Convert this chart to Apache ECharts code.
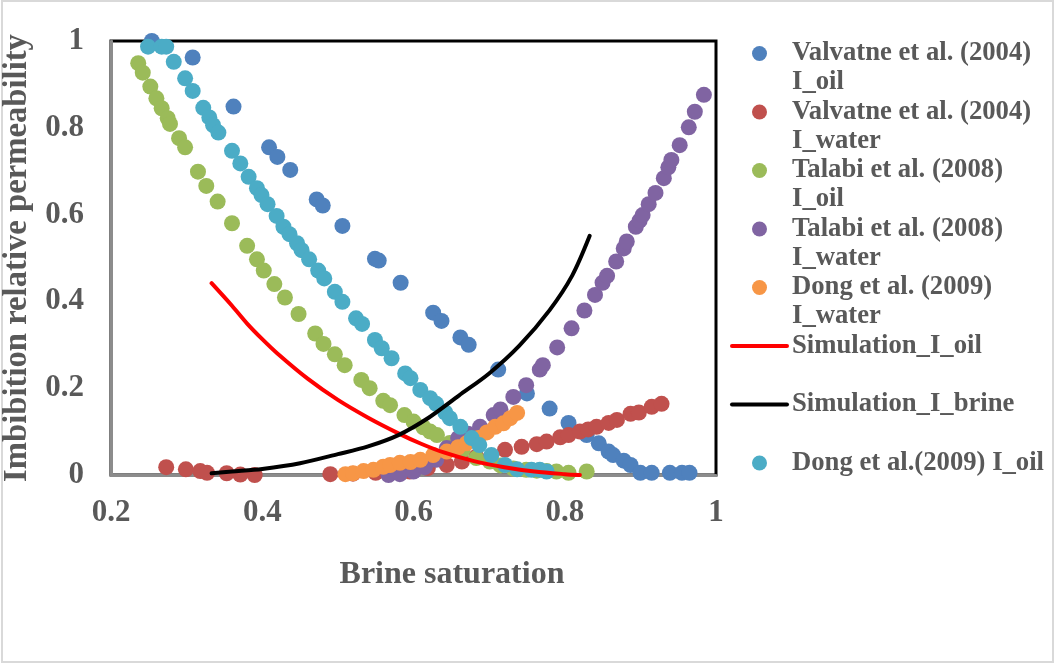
<!DOCTYPE html>
<html>
<head>
<meta charset="utf-8">
<script src="https://cdn.jsdelivr.net/npm/echarts@6/dist/echarts.min.js"></script>
<style>
  html, body { margin: 0; padding: 0; background: #ffffff; }
  #chart { width: 1055px; height: 664px; }
</style>
</head>
<body>
<div id="chart"></div>
<script>
// Imbibition relative permeability vs brine saturation: literature data points and simulation curves

const xTicks = [0.2, 1, 0.2];   // min, max, interval
const yTicks = [0, 1, 0.2];

// [brine saturation, relative permeability]
const valvatneOil = [
  [0.254, 1.0], [0.308, 0.962], [0.362, 0.849], [0.409, 0.755], [0.42, 0.733], [0.437, 0.703],
  [0.472, 0.635], [0.48, 0.621], [0.506, 0.574], [0.549, 0.498], [0.554, 0.494], [0.583, 0.443],
  [0.626, 0.374], [0.637, 0.355], [0.662, 0.317], [0.673, 0.3], [0.712, 0.243], [0.75, 0.188],
  [0.78, 0.153], [0.805, 0.12], [0.829, 0.092], [0.845, 0.073], [0.858, 0.054], [0.864, 0.046],
  [0.878, 0.033], [0.887, 0.023], [0.9, 0.005], [0.915, 0.005], [0.939, 0.005], [0.955, 0.005],
  [0.965, 0.005]
];

const valvatneWater = [
  [0.273, 0.018], [0.299, 0.013], [0.318, 0.009], [0.327, 0.005], [0.353, 0.004], [0.371, 0.001],
  [0.39, 0.0], [0.49, 0.002], [0.52, 0.003], [0.55, 0.005], [0.575, 0.007], [0.595, 0.008],
  [0.619, 0.016], [0.644, 0.023], [0.664, 0.031], [0.683, 0.042], [0.721, 0.058], [0.743, 0.065],
  [0.763, 0.071], [0.776, 0.077], [0.794, 0.087], [0.805, 0.092], [0.82, 0.1], [0.831, 0.105],
  [0.842, 0.111], [0.858, 0.12], [0.869, 0.127], [0.887, 0.141], [0.898, 0.144], [0.915, 0.157],
  [0.928, 0.164]
];

const talabiOil = [
  [0.236, 0.949], [0.242, 0.927], [0.252, 0.895], [0.26, 0.868], [0.267, 0.845], [0.275, 0.822],
  [0.278, 0.809], [0.29, 0.776], [0.298, 0.755], [0.315, 0.699], [0.326, 0.666], [0.341, 0.63],
  [0.36, 0.58], [0.38, 0.528], [0.393, 0.497], [0.402, 0.471], [0.416, 0.44], [0.43, 0.409],
  [0.448, 0.371], [0.47, 0.326], [0.481, 0.302], [0.496, 0.278], [0.509, 0.253], [0.531, 0.219],
  [0.542, 0.2], [0.56, 0.171], [0.569, 0.161], [0.588, 0.138], [0.6, 0.123], [0.613, 0.11],
  [0.622, 0.1], [0.631, 0.092], [0.648, 0.074], [0.665, 0.058], [0.683, 0.039], [0.701, 0.031],
  [0.715, 0.022], [0.732, 0.015], [0.749, 0.012], [0.763, 0.01], [0.776, 0.009], [0.789, 0.008],
  [0.805, 0.005], [0.829, 0.008]
];

const talabiWater = [
  [0.567, 0.0], [0.582, 0.002], [0.6, 0.008], [0.615, 0.018], [0.63, 0.035], [0.644, 0.062],
  [0.659, 0.085], [0.672, 0.095], [0.688, 0.111], [0.706, 0.138], [0.715, 0.151], [0.732, 0.18],
  [0.749, 0.207], [0.767, 0.243], [0.771, 0.253], [0.79, 0.294], [0.809, 0.338], [0.826, 0.379],
  [0.84, 0.415], [0.85, 0.443], [0.856, 0.459], [0.868, 0.492], [0.878, 0.522], [0.882, 0.538],
  [0.894, 0.572], [0.899, 0.586], [0.903, 0.599], [0.911, 0.624], [0.92, 0.65], [0.931, 0.684],
  [0.937, 0.709], [0.941, 0.726], [0.952, 0.76], [0.964, 0.801], [0.972, 0.837], [0.984, 0.876]
];

const dongWater = [
  [0.51, 0.002], [0.52, 0.004], [0.534, 0.009], [0.547, 0.012], [0.56, 0.019], [0.569, 0.023],
  [0.582, 0.028], [0.596, 0.03], [0.609, 0.035], [0.626, 0.046], [0.644, 0.054], [0.659, 0.064],
  [0.67, 0.073], [0.686, 0.085], [0.697, 0.098], [0.708, 0.111], [0.719, 0.119], [0.728, 0.131],
  [0.737, 0.143]
];

const dongOil = [
  [0.249, 0.987], [0.267, 0.987], [0.273, 0.987], [0.283, 0.952], [0.298, 0.914], [0.308, 0.885],
  [0.322, 0.846], [0.33, 0.824], [0.335, 0.806], [0.342, 0.789], [0.36, 0.747], [0.371, 0.718],
  [0.382, 0.687], [0.393, 0.661], [0.399, 0.645], [0.407, 0.624], [0.419, 0.597], [0.428, 0.572],
  [0.436, 0.555], [0.446, 0.534], [0.452, 0.518], [0.462, 0.497], [0.474, 0.471], [0.482, 0.453],
  [0.496, 0.422], [0.506, 0.399], [0.524, 0.361], [0.532, 0.348], [0.549, 0.311], [0.558, 0.292],
  [0.571, 0.269], [0.589, 0.234], [0.596, 0.223], [0.609, 0.196], [0.622, 0.177], [0.63, 0.164],
  [0.642, 0.144], [0.648, 0.131], [0.662, 0.111], [0.677, 0.085], [0.687, 0.069], [0.703, 0.046],
  [0.721, 0.023], [0.737, 0.013], [0.756, 0.012], [0.767, 0.012], [0.776, 0.008]
];

const simOil = [
  [0.333, 0.442], [0.36, 0.39], [0.38, 0.349], [0.40, 0.313], [0.42, 0.28], [0.46, 0.222],
  [0.50, 0.173], [0.54, 0.132], [0.58, 0.096], [0.61, 0.072], [0.64, 0.052], [0.68, 0.032],
  [0.72, 0.018], [0.76, 0.008], [0.80, 0.002], [0.82, 0.0]
];

const simBrine = [
  [0.333, 0.004], [0.36, 0.008], [0.40, 0.014], [0.45, 0.027], [0.50, 0.048], [0.54, 0.066],
  [0.58, 0.092], [0.62, 0.132], [0.66, 0.183], [0.70, 0.234], [0.74, 0.298], [0.78, 0.38],
  [0.81, 0.46], [0.833, 0.551]
];

const names = [
  'Valvatne et al. (2004) I_oil',
  'Valvatne et al. (2004) I_water',
  'Talabi et al. (2008) I_oil',
  'Talabi et al. (2008) I_water',
  'Dong et al. (2009) I_water',
  'Simulation_I_oil',
  'Simulation_I_brine',
  'Dong et al.(2009) I_oil'
];

// legend text, broken over lines the way the legend wraps them
const legendText = {
  'Valvatne et al. (2004) I_oil': '\nValvatne et al. (2004)\nI_oil',
  'Valvatne et al. (2004) I_water': '\nValvatne et al. (2004)\nI_water',
  'Talabi et al. (2008) I_oil': '\nTalabi et al. (2008)\nI_oil',
  'Talabi et al. (2008) I_water': '\nTalabi et al. (2008)\nI_water',
  'Dong et al. (2009) I_water': '\nDong et al. (2009)\nI_water',
  'Simulation_I_oil': '\nSimulation_I_oil\n ',
  'Simulation_I_brine': '\nSimulation_I_brine\n ',
  'Dong et al.(2009) I_oil': '\nDong et al.(2009) I_oil\n '
};

const FONT = "'Liberation Serif', 'Times New Roman', serif";
const TEXT_COLOR = '#595959';

function scatter(name, data, color) {
  return {
    name: name,
    type: 'scatter',
    data: data,
    symbol: 'circle',
    symbolSize: 16,
    clip: false,
    itemStyle: { color: color, opacity: 1 },
    emphasis: { disabled: true }
  };
}

function curve(name, data, color) {
  return {
    name: name,
    type: 'line',
    data: data,
    symbol: 'none',
    showSymbol: false,
    smooth: 0.3,
    lineStyle: { color: color, width: 4, cap: 'round', join: 'round' },
    itemStyle: { color: color },
    emphasis: { disabled: true }
  };
}

// line entries in the legend show only the stroke, no marker
const legendData = names.map(n => n.indexOf('Simulation') === 0
  ? { name: n, itemStyle: { color: 'rgba(0,0,0,0)', opacity: 0, borderWidth: 0 } }
  : { name: n });

const chart = echarts.init(document.getElementById('chart'), null, { renderer: 'canvas' });

chart.setOption({
  animation: false,
  backgroundColor: '#ffffff',
  graphic: [{
    type: 'rect',
    shape: { x: 2, y: 1, width: 1051, height: 661 },
    style: { fill: 'none', stroke: '#d9d9d9', lineWidth: 2 },
    silent: true
  }],
  grid: {
    left: 111, top: 41, width: 605, height: 434,
    show: true, borderColor: '#000000', borderWidth: 3,
    outerBoundsMode: 'none'
  },
  legend: {
    orient: 'vertical',
    left: 730,
    top: 10,
    padding: 0,
    itemWidth: 55,
    itemHeight: 15,
    itemGap: -28.5,
    selectedMode: false,
    data: legendData,
    formatter: n => legendText[n],
    lineStyle: { width: 4, cap: 'round' },
    textStyle: {
      fontFamily: FONT, fontWeight: 'bold', fontSize: 26.7,
      color: TEXT_COLOR, lineHeight: 29
    }
  },
  xAxis: {
    type: 'value',
    min: xTicks[0], max: xTicks[1], interval: xTicks[2],
    axisLine: { show: true, onZero: false, lineStyle: { color: '#8c8c8c', width: 3 } },
    axisTick: { show: false },
    splitLine: { show: false },
    axisLabel: {
      fontFamily: FONT, fontWeight: 'bold', fontSize: 31, color: TEXT_COLOR, margin: 22
    },
    name: 'Brine saturation',
    nameLocation: 'middle',
    nameGap: 84,
    nameTextStyle: {
      fontFamily: FONT, fontWeight: 'bold', fontSize: 32, color: TEXT_COLOR,
      padding: [0, 0, 0, 77]
    }
  },
  yAxis: {
    type: 'value',
    min: yTicks[0], max: yTicks[1], interval: yTicks[2],
    axisLine: { show: true, onZero: false, lineStyle: { color: '#8c8c8c', width: 3 } },
    axisTick: { show: false },
    splitLine: { show: false },
    axisLabel: {
      fontFamily: FONT, fontWeight: 'bold', fontSize: 31, color: TEXT_COLOR, margin: 27
    },
    name: 'Imbibition relative permeability',
    nameLocation: 'middle',
    nameGap: 66,
    nameTextStyle: {
      fontFamily: FONT, fontWeight: 'bold', fontSize: 32.7, color: TEXT_COLOR
    }
  },
  series: [
    curve(names[5], simOil, '#ff0000'),
    curve(names[6], simBrine, '#000000'),
    scatter(names[0], valvatneOil, '#4f81bd'),
    scatter(names[1], valvatneWater, '#c0504d'),
    scatter(names[2], talabiOil, '#9bbb59'),
    scatter(names[3], talabiWater, '#8064a2'),
    scatter(names[4], dongWater, '#f79646'),
    scatter(names[7], dongOil, '#4bacc6')
  ]
});
</script>
</body>
</html>
